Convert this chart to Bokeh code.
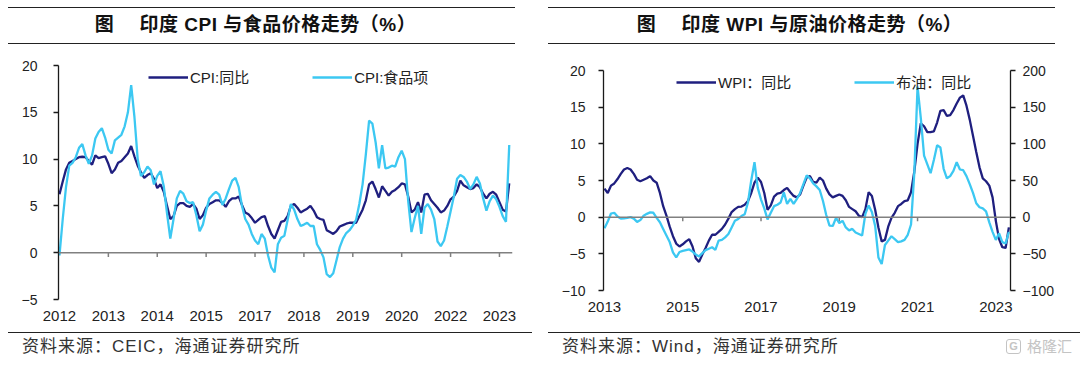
from bokeh.plotting import figure
from bokeh.models import (Range1d, LinearAxis, FixedTicker, Span, Legend,
                          LegendItem, ColumnDataSource, Div)
from bokeh.layouts import row, column
from bokeh.embed import file_html
from bokeh.resources import INLINE

# ---------------- data ----------------
# India CPI (monthly, from 2012-01), % yoy
cpi_yoy = [6.25, 7.6, 8.9, 9.6, 9.8, 10.0, 10.2, 10.25, 10.2, 9.8,
           9.4, 10.4, 10.1, 10.2, 10.3, 9.5, 8.5, 8.9, 9.6, 9.8,
           10.2, 10.6, 11.4, 10.3, 9.3, 8.6, 8.0, 8.3, 8.5, 7.9,
           6.9, 7.3, 6.5, 5.0, 3.6, 3.9, 5.0, 5.3, 5.3, 5.0,
           4.9, 5.2, 4.7, 3.6, 4.0, 4.8, 5.2, 5.4, 5.6, 5.6,
           5.3, 4.9, 5.5, 5.8, 5.8, 6.0, 5.1, 4.3, 4.1, 3.7,
           3.2, 3.5, 3.8, 3.9, 2.85, 2.0, 1.5, 2.4, 3.3, 3.4,
           3.9, 5.0, 5.2, 4.8, 4.3, 4.5, 4.7, 5.0, 4.5, 3.8,
           3.6, 3.5, 2.4, 2.2, 2.0, 2.3, 2.8, 2.95, 3.1, 3.2,
           3.2, 3.2, 3.9, 4.6, 5.6, 7.3, 7.6, 6.8, 5.9, 7.1,
           6.6, 6.1, 6.5, 6.7, 7.0, 7.4, 7.3, 6.0, 4.3, 4.6,
           5.4, 4.3, 6.2, 6.3, 5.6, 5.2, 4.8, 4.3, 4.5, 5.0,
           5.7, 6.0, 6.6, 7.7, 7.2, 7.0, 6.8, 6.9, 7.3, 7.0,
           6.3, 5.8, 6.3, 6.5, 6.2, 5.4, 4.6, 4.4, 7.4]
cpi_food = [-0.3, 3.6, 7.0, 9.3, 9.6, 10.2, 11.2, 11.6, 10.4, 9.5,
            10.4, 12.2, 12.9, 13.3, 12.3, 11.0, 10.6, 12.0, 12.3, 12.6,
            13.5, 15.0, 17.9, 14.5, 10.0, 8.2, 8.6, 9.2, 8.8, 7.3,
            8.2, 8.7, 7.1, 4.2, 1.5, 3.6, 5.8, 6.6, 6.3, 5.5,
            5.3, 5.4, 4.0, 2.3, 3.0, 4.5, 5.8, 6.2, 6.5, 6.2,
            5.1, 5.8, 6.8, 7.7, 8.0, 7.0, 5.0, 3.6, 3.0, 2.0,
            1.3, 0.9, 2.0, 1.5, -0.3, -1.6, -2.1, 0.9, 1.6, 1.8,
            3.5, 5.2, 4.6, 3.6, 2.85, 3.0, 3.2, 2.85, 2.85, 0.9,
            0.3, -0.5, -2.3, -2.6, -2.2, -0.8, 0.6, 1.5, 2.1, 2.4,
            2.9, 3.5, 5.2, 7.3, 10.5, 14.1, 13.8, 11.8, 9.0, 11.5,
            9.0, 9.1, 9.3, 9.2, 10.2, 10.9, 10.0, 5.5, 2.2, 3.7,
            5.0, 2.0, 4.8, 5.2, 4.6, 3.6, 1.2, 0.7, 1.3, 2.8,
            4.4, 6.0, 7.9, 8.3, 8.1, 7.6, 6.8, 7.3, 8.1, 7.4,
            5.8, 4.5, 5.5, 6.1, 5.7, 4.9, 3.9, 3.3, 11.5]
cpi_tick_idx = [0, 15, 30, 45, 60, 75, 90, 105, 120, 135]
cpi_tick_labels = ["2012", "2013", "2014", "2015", "2017", "2018", "2019", "2020", "2022", "2023"]

# India WPI and Brent (monthly), % yoy
wpi_yoy = [3.9, 3.3, 4.3, 4.6, 5.2, 5.9, 6.5, 6.7, 6.5, 5.9,
           5.1, 4.9, 5.1, 5.3, 5.6, 5.0, 4.7, 3.3, 1.5, 0.2,
           -1.3, -2.6, -3.6, -4.0, -3.7, -3.3, -3.0, -4.0, -5.6, -6.1,
           -5.1, -4.2, -3.2, -2.4, -2.4, -2.0, -1.6, -1.0, -0.2, 0.7,
           1.1, 1.4, 1.45, 1.7, 2.2, 3.3, 4.7, 5.4, 4.8, 3.3,
           1.0, 1.6, 2.8, 3.2, 3.3, 3.7, 4.0, 3.4, 2.9, 2.7,
           3.1, 4.3, 5.4, 5.6, 4.8, 4.7, 5.4, 5.0, 3.9, 3.1,
           2.7, 2.9, 3.1, 2.9, 2.3, 1.4, 1.1, 0.8, 0.2, 0.0,
           1.1, 3.4, 2.9, 1.0, -1.4, -3.3, -3.1, -1.3, -0.1, 0.6,
           1.5, 1.8, 2.2, 2.3, 3.4, 6.2, 10.0, 12.8, 12.4, 11.6,
           11.6, 11.7, 12.9, 14.5, 14.6, 13.8, 13.9, 14.6, 15.5, 16.3,
           16.6, 15.2, 13.3, 11.1, 8.9, 6.8, 5.3, 4.9, 4.3, 2.7,
           -0.5, -3.0, -4.1, -4.2, -1.4]
brent_yoy = [-15, -6, 5, 6, 1, -2, -1.5, -1, 0, -2,
             -6.5, -4, 2, 4.5, 6.5, 6, -1, -7, -16, -25,
             -34, -48, -55, -47.5, -46, -45, -44, -47, -51, -53.5,
             -49, -45, -43, -41, -44.5, -32, -31, -27.5, -23, -14,
             -5, -2.5, 1.5, 4, 20, 50, 75, 40, 24, 12,
             -3, 6, 15, 17, 20, 34, 18, 25, 18, 25,
             33, 45, 57, 53, 46, 42, 37, 22, 3, -11.5,
             -12, -1, -8, -5, -14, -18, -16, -21, -23, -25,
             4.5, 16, 7, -12, -55, -64, -38, -32, -26, -30,
             -34, -33, -31, -24, -10, 60, 178, 135, 84, 72,
             60, 78, 98, 95, 66, 53, 56, 63, 75, 65,
             64, 56, 45, 33, 19, 13.5, 12, 8, -7, -20,
             -31, -22, -34, -36, -20]
wpi_tick_idx = [0, 24, 48, 72, 96, 120]
wpi_tick_labels = ["2013", "2015", "2017", "2019", "2021", "2023"]

# ---------------- style ----------------
DARK = "#1f1f7f"
LIGHT = "#3cc8f2"
AXIS = "#1a1a1a"
NUM_FONT = "'Liberation Sans', 'Noto Sans CJK SC'"
CSS_FONT = "'Liberation Sans','Noto Sans CJK SC',sans-serif"
W = 540


def base_fig(h, **kw):
    return figure(width=W, height=h, toolbar_location=None, output_backend="svg",
                  outline_line_color=None, border_fill_color="white",
                  background_fill_color="white", **kw)


def header(title, rule_left, text_left):
    html = (
        '<div style="position:relative;width:540px;height:52px;background:#fff;">'
        f'<div style="position:absolute;left:{rule_left}px;top:7px;width:507px;height:37px;'
        'border-top:1.6px solid #222;border-bottom:1.6px solid #222;box-sizing:border-box;"></div>'
        f'<div style="position:absolute;left:{text_left}px;top:14px;width:507px;text-align:center;'
        f'font-family:{CSS_FONT};font-weight:bold;font-size:19px;line-height:22px;'
        'letter-spacing:0.5px;color:#111;white-space:pre;">'
        f'{title}</div></div>')
    return Div(text=html, width=540, height=52, margin=(0, 0, 0, 0))


def footer(text, rule_left, rule_w, text_left, watermark=False):
    extra = ""
    if watermark:
        extra = (
            '<div style="position:absolute;left:466px;top:9px;width:15px;height:15px;'
            'border:1.5px solid #c4c4c4;border-radius:3px;box-sizing:border-box;'
            f'font-family:{CSS_FONT};font-size:11px;line-height:12px;text-align:center;'
            'color:#c4c4c4;font-weight:bold;">G</div>'
            f'<div style="position:absolute;left:487px;top:7px;font-family:{CSS_FONT};'
            'font-size:15px;line-height:20px;color:#c4c4c4;white-space:pre;">格隆汇</div>')
    html = (
        '<div style="position:relative;width:540px;height:33px;background:#fff;">'
        f'<div style="position:absolute;left:{rule_left}px;top:2px;width:{rule_w}px;height:0px;'
        'border-top:1.6px solid #222;"></div>'
        f'<div style="position:absolute;left:{text_left}px;top:7px;font-family:{CSS_FONT};'
        'font-size:17px;line-height:20px;letter-spacing:1px;color:#333;white-space:pre;">'
        f'{text}</div>{extra}</div>')
    return Div(text=html, width=540, height=33, margin=(0, 0, 0, 0))


def style_yaxis(ax, standoff):
    ax.axis_line_color = AXIS
    ax.axis_line_width = 1.3
    ax.major_tick_line_color = AXIS
    ax.major_tick_line_width = 1.3
    ax.major_tick_out = 5
    ax.major_tick_in = 0
    ax.minor_tick_line_color = None
    ax.major_label_text_font = NUM_FONT
    ax.major_label_text_font_size = "14px"
    ax.major_label_text_color = "#222222"
    ax.major_label_standoff = standoff


def style_xaxis(ax, idx, labels):
    ax.ticker = FixedTicker(ticks=idx)
    ax.major_label_overrides = {i: l for i, l in zip(idx, labels)}
    ax.axis_line_color = None
    ax.major_tick_line_color = None
    ax.minor_tick_line_color = None
    ax.major_tick_out = 0
    ax.major_tick_in = 0
    ax.major_label_text_font = NUM_FONT
    ax.major_label_text_font_size = "15px"
    ax.major_label_text_color = "#222222"
    ax.major_label_standoff = 11


def make_legend(p, items, loc):
    lg = Legend(items=items, orientation="horizontal", location=loc,
                border_line_color=None, background_fill_alpha=0,
                padding=0, margin=0, spacing=63, glyph_width=40,
                glyph_height=20, label_standoff=2, label_height=20,
                label_text_font=NUM_FONT, label_text_font_size="15px",
                label_text_color="#222222")
    p.add_layout(lg)


# ---------------- left: CPI ----------------
xl = list(range(len(cpi_yoy)))
pl = base_fig(278, x_range=Range1d(-0.3, 139), y_range=Range1d(-5, 20),
              min_border_left=58, min_border_right=28, min_border_top=13,
              min_border_bottom=31)
pl.xgrid.visible = False
pl.ygrid.visible = False
pl.yaxis.ticker = FixedTicker(ticks=[-5, 0, 5, 10, 15, 20])
style_yaxis(pl.yaxis[0], 16)
style_xaxis(pl.xaxis[0], cpi_tick_idx, cpi_tick_labels)
pl.add_layout(Span(location=0, dimension="width", line_color="#808080", line_width=1.5))
tl = ColumnDataSource(dict(x=cpi_tick_idx[1:], y0=[0] * 9, y1=[-0.45] * 9))
pl.segment(x0="x", y0="y0", x1="x", y1="y1", source=tl, line_color="#808080", line_width=1.5)
src_l = ColumnDataSource(dict(x=xl, cpi=cpi_yoy, food=cpi_food))
r1 = pl.line("x", "cpi", source=src_l, line_color=DARK, line_width=2.3)
r2 = pl.line("x", "food", source=src_l, line_color=LIGHT, line_width=2.3)
make_legend(pl, [LegendItem(label="CPI:同比", renderers=[r1]),
                 LegendItem(label="CPI:食品项", renderers=[r2])], (90, 212))

# ---------------- right: WPI ----------------
xr = list(range(len(wpi_yoy)))
pr = base_fig(278, x_range=Range1d(-0.3, 124.5), y_range=Range1d(-10, 20),
              min_border_left=63, min_border_right=70, min_border_top=18,
              min_border_bottom=40)
pr.xgrid.visible = False
pr.ygrid.visible = False
pr.extra_y_ranges = {"brent": Range1d(-100, 200)}
pr.yaxis.ticker = FixedTicker(ticks=[-10, -5, 0, 5, 10, 15, 20])
style_yaxis(pr.yaxis[0], 13)
rax = LinearAxis(y_range_name="brent", ticker=FixedTicker(ticks=[-100, -50, 0, 50, 100, 150, 200]))
style_yaxis(rax, 7)
pr.add_layout(rax, "right")
style_xaxis(pr.xaxis[0], wpi_tick_idx, wpi_tick_labels)
pr.add_layout(Span(location=0, dimension="width", line_color="#808080", line_width=1.5))
tr = ColumnDataSource(dict(x=wpi_tick_idx[1:], y0=[0] * 5, y1=[-0.55] * 5))
pr.segment(x0="x", y0="y0", x1="x", y1="y1", source=tr, line_color="#808080", line_width=1.5)
src_r = ColumnDataSource(dict(x=xr, wpi=wpi_yoy, brent=brent_yoy))
r3 = pr.line("x", "wpi", source=src_r, line_color=DARK, line_width=2.3)
r4 = pr.line("x", "brent", source=src_r, line_color=LIGHT, line_width=2.3,
             y_range_name="brent")
make_legend(pr, [LegendItem(label="WPI：同比", renderers=[r3]),
                 LegendItem(label="布油：同比", renderers=[r4])], (73, 198))

# ---------------- assemble ----------------
left = column(header("图\u3000 印度 CPI 与食品价格走势（%）", 8, 2), pl,
              footer("资料来源：CEIC，海通证券研究所", 8, 524, 22), spacing=0)
right = column(header("图\u3000 印度 WPI 与原油价格走势（%）", 8, 6), pr,
               footer("资料来源：Wind，海通证券研究所", 8, 532, 22, watermark=True), spacing=0)
page = row(left, right, spacing=0)

open("out.html", "w").write(file_html(page, INLINE))
